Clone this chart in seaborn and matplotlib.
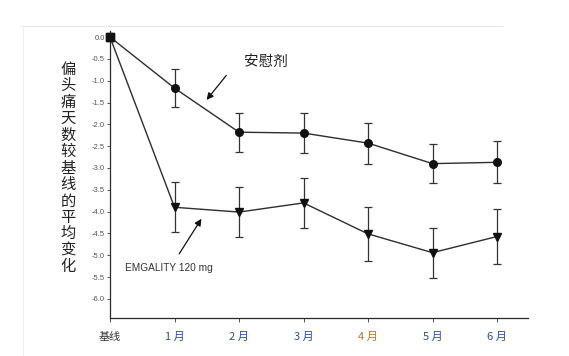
import matplotlib
matplotlib.use("Agg")
import matplotlib.pyplot as plt
import seaborn as sns
import pandas as pd
from matplotlib.lines import Line2D

sns.set_theme(style="white")
plt.rcParams['font.family'] = ['Noto Sans CJK SC', 'DejaVu Sans']

# ---- data ----
months = ["基线", "1", "2", "3", "4", "5", "6"]
month_suffix = " 月"
month_colors = ["#333333", "#2b4f9a", "#2b4f9a", "#2b4f9a", "#b87a32", "#2b4f9a", "#2b4f9a"]
placebo_mean = [0.0, -1.17, -2.18, -2.20, -2.43, -2.90, -2.87]
placebo_err = [0.0, 0.44, 0.45, 0.45, 0.47, 0.45, 0.48]
emgality_mean = [0.0, -3.90, -4.01, -3.80, -4.51, -4.94, -4.57]
emgality_err = [0.0, 0.57, 0.57, 0.58, 0.61, 0.57, 0.62]
yticks = [0.0, -0.5, -1.0, -1.5, -2.0, -2.5, -3.0, -3.5, -4.0, -4.5, -5.0, -5.5, -6.0]
ylabel = "偏头痛天数较基线的平均变化"
placebo_label = "安慰剂"
emgality_label = "EMGALITY 120 mg"

x = list(range(len(months)))
df = pd.DataFrame({
    "x": x * 2,
    "y": placebo_mean + emgality_mean,
    "err": placebo_err + emgality_err,
    "group": [placebo_label] * len(x) + [emgality_label] * len(x),
})

fig = plt.figure(figsize=(5.69, 3.56), dpi=100)
ax = fig.add_axes([110 / 569, 1 - 317.7 / 356, (528 - 110) / 569, (317.7 - 30.5) / 356])

lc = "#2e2e2e"
sns.lineplot(data=df, x="x", y="y", units="group", estimator=None,
             color=lc, lw=1.0, ax=ax, legend=False)

for grp, mk, ms in [(placebo_label, "o", 5.5), (emgality_label, "v", 5.5)]:
    d = df[(df.group == grp) & (df.x > 0)]
    ax.errorbar(d.x, d.y, yerr=d.err, fmt=mk, color="#111111", ms=ms,
                ecolor="#333333", elinewidth=0.9, capsize=3, capthick=0.9, zorder=3)
d0 = df[df.x == 0]
ax.plot(d0.x, d0.y, "s", color="#111111", ms=5.5, zorder=4, clip_on=False)

ax.set_xlim(0, 6.48)
ax.set_ylim(-6.43, 0.15)
ax.set_yticks(yticks)
ax.set_yticklabels([f"{v:.1f}" if v != 0 else "0.0" for v in yticks],
                   fontsize=5.5, color="#555555", family=["Liberation Sans", "DejaVu Sans"])
ax.set_xticks(x)
ax.set_xticklabels([m if i == 0 else m + month_suffix for i, m in enumerate(months)],
                   fontsize=8)
for lab, c in zip(ax.get_xticklabels(), month_colors):
    lab.set_color(c)
ax.tick_params(axis="y", length=2.5, width=0.7, color="#555555", pad=1, direction="out", left=True)
ax.tick_params(axis="x", length=3, width=0.7, color="#555555", pad=7, direction="out", bottom=True)
for s in ["top", "right"]:
    ax.spines[s].set_visible(False)
for s in ["left", "bottom"]:
    ax.spines[s].set_color("#2a2a2a")
    ax.spines[s].set_linewidth(0.9)
ax.set_xlabel("")
ax.set_ylabel("")

# annotations (positions in data coords)
ax.annotate("", xy=(1.47, -1.49), xytext=(1.83, -0.83),
            arrowprops=dict(arrowstyle="-|>", color="#111111", lw=0.9, mutation_scale=10))
ax.text(2.07, -0.57, placebo_label, fontsize=10.5, color="#222222", ha="left", va="center")
ax.annotate("", xy=(1.44, -4.11), xytext=(1.05, -5.02),
            arrowprops=dict(arrowstyle="-|>", color="#111111", lw=0.9, mutation_scale=10))
ax.text(0.23, -5.28, emgality_label, fontsize=7.3, color="#333333", ha="left", va="center",
        family=["Liberation Sans", "DejaVu Sans"])

# vertical stacked y label
fig.text(68 / 569, 1 - 168 / 356, "\n".join(ylabel), fontsize=11, color="#222222",
         ha="center", va="center", linespacing=0.96)

# faint frame
fig.add_artist(Line2D([21 / 569, 503 / 569], [1 - 26 / 356] * 2, color="#e6e6e6", lw=0.8))
fig.add_artist(Line2D([23 / 569] * 2, [1 - 26 / 356, 0], color="#eeeeee", lw=0.8))

fig.savefig("out.png", dpi=100)
